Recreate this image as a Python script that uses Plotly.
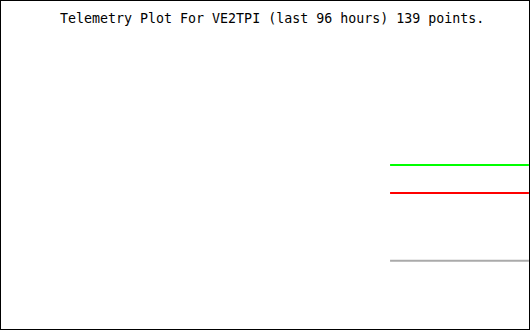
import plotly.graph_objects as go

# Data (hours relative to now, arbitrary telemetry units)
hours = [-25.2, -18.0, -12.0, -6.0, 0.0]
series_names = ["Voltage", "Temperature", "Other"]
series_colors = ["#00ff00", "#ff0000", "#aaaaaa"]
series_values = [
    [50.0, 50.0, 50.0, 50.0, 50.0],
    [41.5, 41.5, 41.5, 41.5, 41.5],
    [21.0, 21.0, 21.0, 21.0, 21.0],
]
title_text = "Telemetry Plot For VE2TPI (last 96 hours) 139 points."

fig = go.Figure()
for name, color, vals in zip(series_names, series_colors, series_values):
    fig.add_trace(go.Scatter(x=hours, y=vals, mode="lines", name=name,
                             line=dict(color=color, width=2), hoverinfo="skip"))

fig.update_layout(
    width=530, height=330,
    margin=dict(l=0, r=0, t=0, b=0, pad=0),
    paper_bgcolor="white", plot_bgcolor="white",
    showlegend=False,
    xaxis=dict(range=[-96, 0.2], visible=False, fixedrange=True),
    yaxis=dict(range=[0, 100], visible=False, fixedrange=True),
    shapes=[dict(type="rect", xref="paper", yref="paper", x0=0, x1=1, y0=0, y1=1,
                 line=dict(color="black", width=2), fillcolor="rgba(0,0,0,0)", layer="above")],
    annotations=[dict(text=title_text, xref="paper", yref="paper",
                      x=272/530, y=1 - 18/330, xanchor="center", yanchor="middle",
                      showarrow=False,
                      font=dict(family="DejaVu Sans Mono", size=13.3, color="black"))],
)

fig.write_html("out.html")
